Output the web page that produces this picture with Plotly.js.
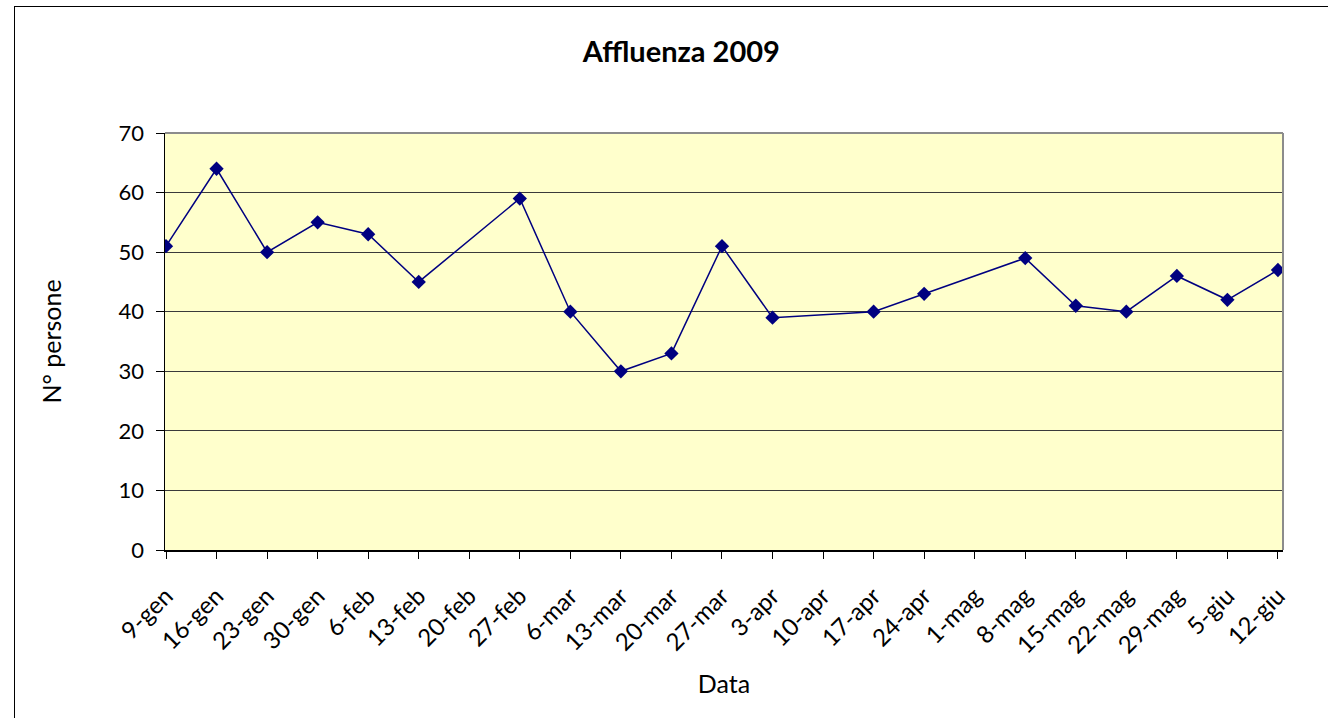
<!DOCTYPE html>
<html>
<head>
<meta charset="utf-8">
<script src="https://cdn.plot.ly/plotly-3.0.1.min.js"></script>
<style>
  html, body { margin: 0; padding: 0; background: #ffffff; }
  #wrap { position: relative; width: 1328px; height: 718px; overflow: hidden; }
  #chart { width: 1328px; height: 718px; }
  #frame { position: absolute; left: 14px; top: 6px; width: 2000px; height: 2000px;
           border-left: 1.5px solid #000; border-top: 1.5px solid #000; pointer-events: none; }
</style>
</head>
<body>
<div id="wrap">
  <div id="chart"></div>
  <div id="frame"></div>
</div>
<script>
const dateLabels = ["9-gen","16-gen","23-gen","30-gen","6-feb","13-feb","20-feb","27-feb",
  "6-mar","13-mar","20-mar","27-mar","3-apr","10-apr","17-apr","24-apr",
  "1-mag","8-mag","15-mag","22-mag","29-mag","5-giu","12-giu"];
const persone = [51, 64, 50, 55, 53, 45, null, 59,
  40, 30, 33, 51, 39, null, 40, 43,
  null, 49, 41, 40, 46, 42, 47];
const yTicks = [0, 10, 20, 30, 40, 50, 60, 70];

const xIdx = dateLabels.map((_, i) => i);
const pts = xIdx.filter(i => persone[i] !== null);

const FONT = "Lato, 'Open Sans', sans-serif";

const trace = {
  type: "scatter",
  mode: "lines+markers",
  x: pts,
  y: pts.map(i => persone[i]),
  text: pts.map(i => dateLabels[i]),
  line: { color: "#000080", width: 1.5 },
  marker: { symbol: "diamond", size: 11, color: "#000080", line: { width: 0 } },
  hoverinfo: "text+y"
};

const layout = {
  width: 1328, height: 718,
  margin: { l: 165, r: 45, t: 133, b: 168 },
  paper_bgcolor: "#ffffff",
  plot_bgcolor: "#FFFFCC",
  showlegend: false,
  title: { text: "<b>Affluenza 2009</b>", font: { family: FONT, size: 29, color: "#000" },
           x: 0.513, xanchor: "center", y: 0.928, yanchor: "middle" },
  xaxis: {
    type: "linear",
    range: [-0.02, 22.1],
    tickmode: "array",
    tickvals: xIdx,
    ticktext: dateLabels,
    tickangle: -45,
    ticks: "outside", ticklen: 7, tickcolor: "#000", tickwidth: 1,
    showgrid: false, zeroline: false,
    showline: true, linecolor: "#000", linewidth: 1.5,
    tickfont: { family: FONT, size: 24, color: "#000" },
    ticklabelstandoff: 14,
    title: { text: "Data", font: { family: FONT, size: 25, color: "#000" }, standoff: 18 },
    fixedrange: true
  },
  yaxis: {
    range: [0, 70],
    tickmode: "array",
    tickvals: yTicks,
    ticks: "outside", ticklen: 8, tickcolor: "#000", tickwidth: 1,
    showgrid: true, gridcolor: "#3a3a3a", gridwidth: 1,
    zeroline: false,
    showline: true, linecolor: "#000", linewidth: 1.5,
    tickfont: { family: FONT, size: 22, color: "#000" },
    ticklabelstandoff: 7,
    title: { text: "N° persone", font: { family: FONT, size: 25, color: "#000" }, standoff: 50 },
    fixedrange: true
  },
  shapes: [
    { type: "line", xref: "paper", yref: "paper", x0: 0, x1: 1, y0: 1, y1: 1,
      line: { color: "#8c8c8c", width: 2 }, layer: "above" },
    { type: "line", xref: "paper", yref: "paper", x0: 1, x1: 1, y0: 0, y1: 1,
      line: { color: "#8c8c8c", width: 2 }, layer: "above" }
  ]
};

Plotly.newPlot("chart", [trace], layout, { displayModeBar: false, staticPlot: true });
</script>
</body>
</html>
